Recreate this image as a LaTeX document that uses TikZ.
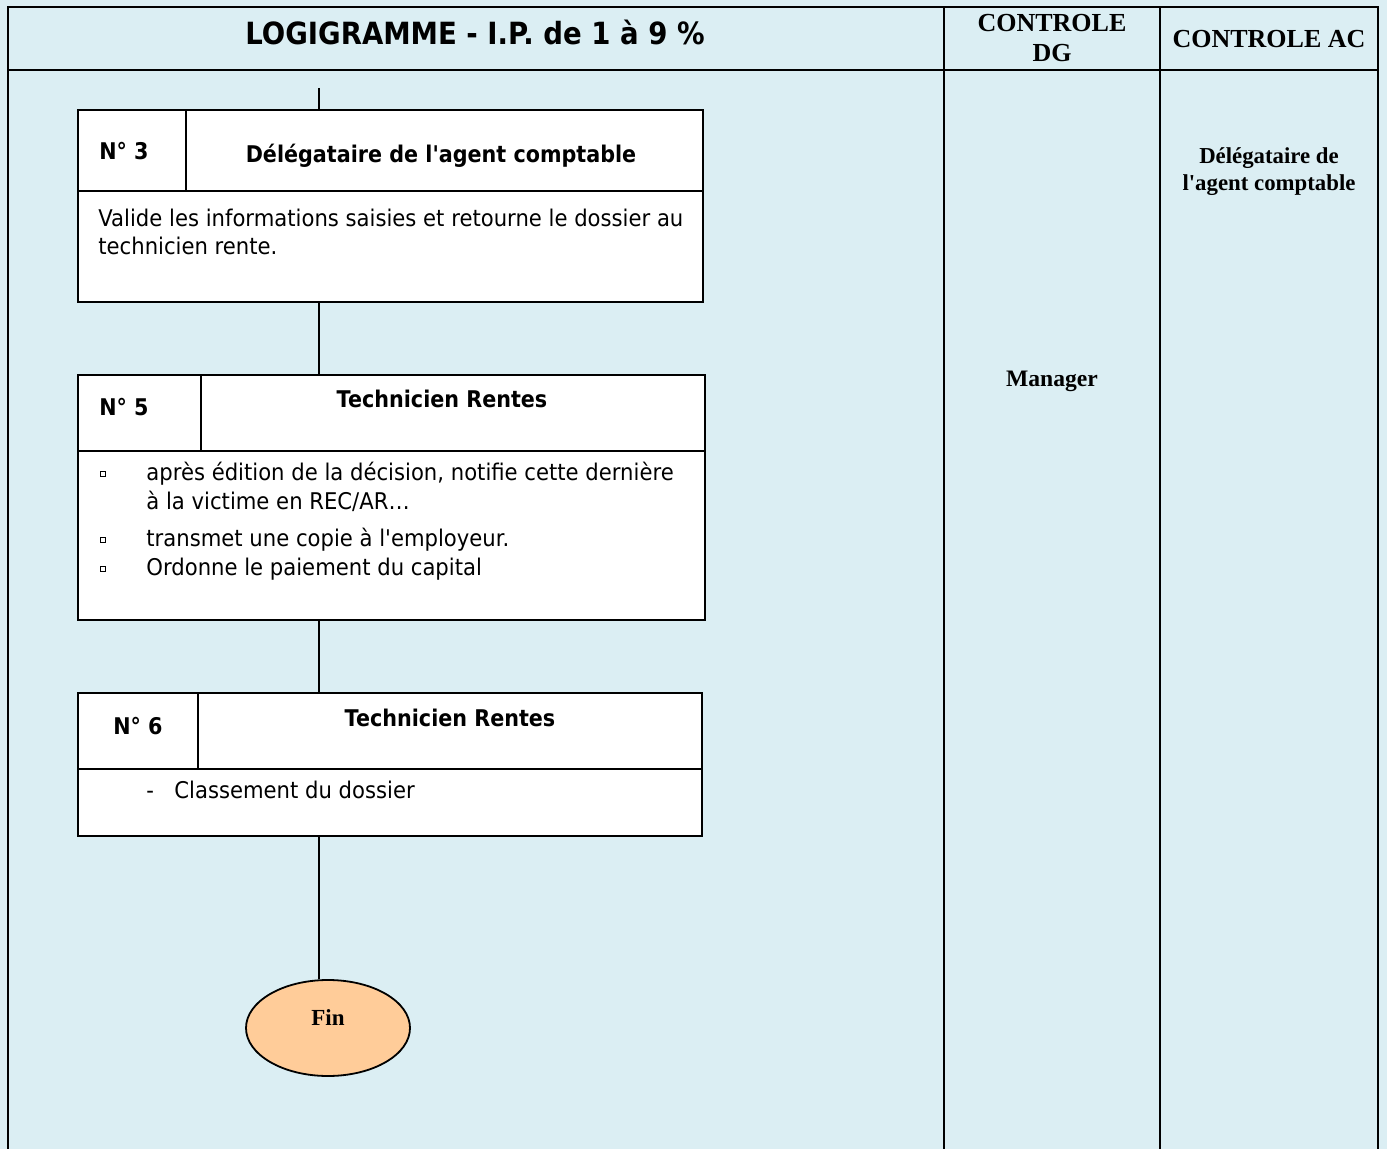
\documentclass[tikz,border=0pt]{standalone}
\usepackage{fontspec}
\setmainfont[Ligatures=TeXOff]{Liberation Serif}
\newfontfamily\tah[FakeStretch=0.92]{DejaVu Sans}
\newfontfamily\tahb[FakeStretch=0.9]{DejaVu Sans}
\usetikzlibrary{shapes.geometric,fit}
\definecolor{bgblue}{RGB}{219,238,243}
\definecolor{finorange}{RGB}{255,204,153}
\tikzset{
  frame/.style={line width=1pt},
  cell/.style={draw, fill=white, line width=0.9pt, inner sep=0pt},
  hdrcell/.style={draw, line width=0.9pt, inner sep=0pt},
  link/.style={line width=0.8pt},
  bodytxt/.style={font=\tah\fontsize{11.5}{13}\selectfont, anchor=base west, inner sep=0pt},
  boldtxt/.style={font=\tahb\bfseries\fontsize{11.5}{13}\selectfont, anchor=base, inner sep=0pt},
  serifhd/.style={font=\bfseries\fontsize{13}{15}\selectfont, anchor=base, inner sep=0pt},
  seriflb/.style={font=\bfseries\fontsize{11.4}{13}\selectfont, anchor=base, inner sep=0pt},
  bulletbox/.style={draw, line width=0.4pt, minimum size=2.6pt, inner sep=0pt},
}
\begin{document}
\begin{tikzpicture}[x=0.5pt,y=-0.5pt]
\fill[bgblue] (0,0) rectangle (1387,1149);
\useasboundingbox (0,0) rectangle (1387,1149);
% table frame
\draw[frame] (8,1149) -- (8,7) -- (1378,7) -- (1378,1149);
\draw[frame] (8,70) -- (1378,70);
\draw[frame] (944,7) -- (944,1149);
\draw[frame] (1160,7) -- (1160,1149);
% header texts
\node[font=\tahb\bfseries\fontsize{15.3}{17}\selectfont, anchor=base, inner sep=0pt] (title) at (475,45) {LOGIGRAMME - I.P. de 1 à 9 \%};
\node[serifhd] (cdg1) at (1052,32) {CONTROLE};
\node[serifhd] (cdg2) at (1052,62) {DG};
\node[serifhd] (cac) at (1269,48) {CONTROLE AC};
\node[seriflb, font=\bfseries\fontsize{11.8}{13}\selectfont] (mgr) at (1052,387) {Manager};
\node[seriflb] (dac1) at (1269,164) {Délégataire de};
\node[seriflb] (dac2) at (1269,191) {l'agent comptable};
\coordinate (cx) at (319,0);
\coordinate (start) at (319,88);
% box 3
\node[cell, fit={(78,110) (703,302)}] (b3) {};
\node[hdrcell, fit={(78,110) (703,191)}] (b3h) {};
\node[hdrcell, fit={(78,110) (186,191)}] (b3n) {};
\node[boldtxt] (t3n) at (124,160) {N° 3};
\node[boldtxt] (t3h) at (441,163) {Délégataire de l'agent comptable};
\node[bodytxt] (t3a) at (98,227) {Valide les informations saisies et retourne le dossier au};
\node[bodytxt] (t3b) at (98,255) {technicien rente.};
% box 5
\node[cell, fit={(78,375) (705,620)}] (b5) {};
\node[hdrcell, fit={(78,375) (705,451)}] (b5h) {};
\node[hdrcell, fit={(78,375) (201,451)}] (b5n) {};
\node[boldtxt] (t5n) at (124,416) {N° 5};
\node[boldtxt] (t5h) at (442,408) {Technicien Rentes};
\node[bulletbox] (bu1) at (103,474) {};
\node[bodytxt] (t5a) at (146,481) {après édition de la décision, notifie cette dernière};
\node[bodytxt] (t5b) at (146,510) {à la victime en REC/AR…};
\node[bulletbox] (bu2) at (103,540) {};
\node[bodytxt] (t5c) at (146,547) {transmet une copie à l'employeur.};
\node[bulletbox] (bu3) at (103,569) {};
\node[bodytxt] (t5d) at (146,576) {Ordonne le paiement du capital};
% box 6
\node[cell, fit={(78,693) (702,836)}] (b6) {};
\node[hdrcell, fit={(78,693) (702,769)}] (b6h) {};
\node[hdrcell, fit={(78,693) (198,769)}] (b6n) {};
\node[boldtxt] (t6n) at (138,734) {N° 6};
\node[boldtxt] (t6h) at (450,726) {Technicien Rentes};
\node[bodytxt] (t6d) at (146,798) {-};
\node[bodytxt] (t6a) at (174,798) {Classement du dossier};
% fin
\node[ellipse, draw, line width=0.9pt, fill=finorange, minimum width=82pt, minimum height=48pt, inner sep=0pt] (fin) at (328,1028) {};
\node[seriflb, font=\bfseries\fontsize{11.5}{13}\selectfont] (fintxt) at (328,1025) {Fin};
% connectors
\draw[link] (start) -- (start |- b3.north);
\draw[link] (b3.south -| cx) -- (b5.north -| cx);
\draw[link] (b5.south -| cx) -- (b6.north -| cx);
\draw[link] (b6.south -| cx) -- (fin.north -| cx);
\end{tikzpicture}
\end{document}
